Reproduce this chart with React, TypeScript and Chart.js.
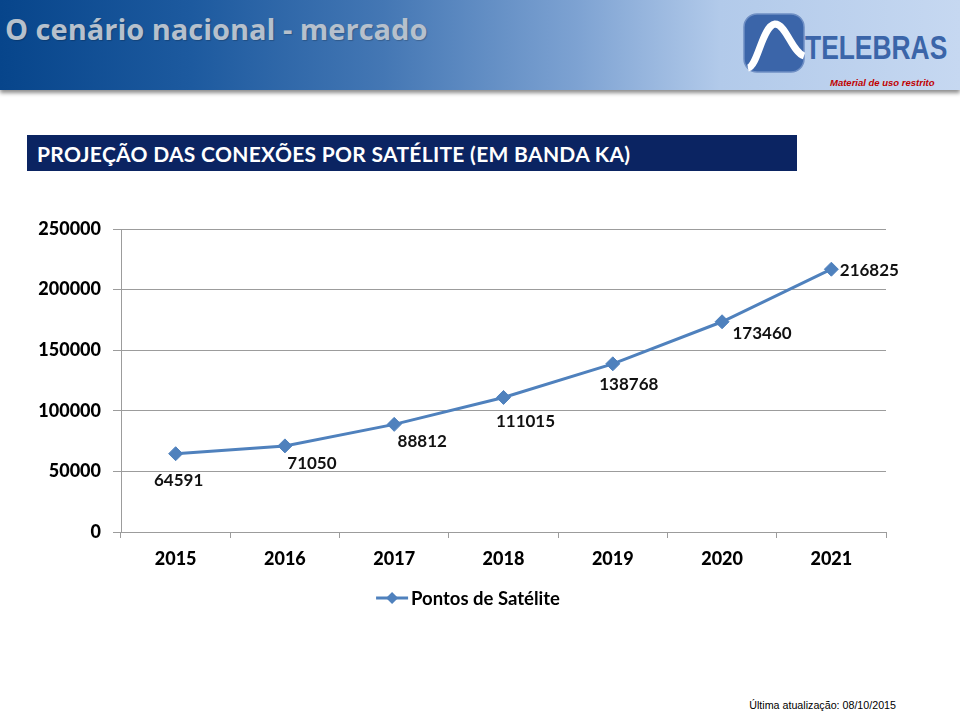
import React, { useEffect, useRef } from "react";
import { Chart, registerables } from "chart.js";

Chart.register(...registerables);

const years = ["2015", "2016", "2017", "2018", "2019", "2020", "2021"];
const satellitePoints = [64591, 71050, 88812, 111015, 138768, 173460, 216825];
const seriesName = "Pontos de Satélite";
const yMin = 0;
const yMax = 250000;
const yStep = 50000;

const LINE_COLOR = "#4f81bd";
const GRID_COLOR = "#9c9c9c";
const CHART_FONT = "Lato, 'Open Sans', sans-serif";

// label placement (dx, dy) relative to each point, in pixels
const labelPlacement = [
  [3, 27],
  [27, 18],
  [28, 17],
  [22, 24],
  [16, 21],
  [40, 12],
  [38, 1],
];

const dataLabelsPlugin = {
  id: "dataLabels",
  afterDatasetsDraw(chart: any) {
    const meta = chart.getDatasetMeta(0);
    const ds = chart.data.datasets[0];
    const ctx = chart.ctx;
    ctx.save();
    ctx.font = `bold 17px ${CHART_FONT}`;
    ctx.fillStyle = "#111";
    ctx.textAlign = "center";
    ctx.textBaseline = "middle";
    meta.data.forEach((pt: any, i: number) => {
      const [dx, dy] = labelPlacement[i] || [0, 20];
      ctx.fillText(String(ds.data[i]), pt.x + dx, pt.y + dy);
    });
    ctx.restore();
  },
};

const lineLegendPlugin = {
  id: "lineLegend",
  afterDraw(chart: any) {
    const ctx = chart.ctx;
    const ds = chart.data.datasets[0];
    const cy = chart.chartArea.bottom + 66;
    const lineW = 32;
    ctx.save();
    ctx.font = `bold 18.5px ${CHART_FONT}`;
    const tw = ctx.measureText(ds.label).width;
    const total = lineW + 3 + tw;
    const x0 = 468 - total / 2;
    ctx.strokeStyle = LINE_COLOR;
    ctx.lineWidth = 3;
    ctx.beginPath();
    ctx.moveTo(x0, cy);
    ctx.lineTo(x0 + lineW, cy);
    ctx.stroke();
    const mx = x0 + lineW / 2;
    const r = 6;
    ctx.fillStyle = LINE_COLOR;
    ctx.beginPath();
    ctx.moveTo(mx, cy - r);
    ctx.lineTo(mx + r, cy);
    ctx.lineTo(mx, cy + r);
    ctx.lineTo(mx - r, cy);
    ctx.closePath();
    ctx.fill();
    ctx.fillStyle = "#000";
    ctx.textAlign = "left";
    ctx.textBaseline = "middle";
    ctx.fillText(ds.label, x0 + lineW + 3, cy + 1);
    ctx.restore();
  },
};

function ProjectionChart() {
  const ref = useRef<HTMLCanvasElement | null>(null);
  useEffect(() => {
    if (!ref.current) return;
    const chart = new Chart(ref.current, {
      type: "line",
      data: {
        labels: years,
        datasets: [
          {
            label: seriesName,
            data: satellitePoints,
            borderColor: LINE_COLOR,
            backgroundColor: LINE_COLOR,
            borderWidth: 3,
            pointStyle: "rectRot",
            pointRadius: 7,
            pointBackgroundColor: LINE_COLOR,
            pointBorderColor: LINE_COLOR,
            pointBorderWidth: 1,
            tension: 0,
            fill: false,
          },
        ],
      },
      options: {
        responsive: false,
        animation: false,
        devicePixelRatio: 1,
        layout: { padding: { top: 29, right: 74, bottom: 48, left: 0 } },
        plugins: {
          legend: { display: false },
          tooltip: { enabled: false },
          title: { display: false },
        },
        scales: {
          x: {
            type: "category",
            offset: true,
            grid: {
              offset: true,
              drawOnChartArea: false,
              drawTicks: true,
              tickLength: 6,
              color: GRID_COLOR,
            },
            border: { color: GRID_COLOR, width: 1 },
            ticks: {
              color: "#000",
              font: { family: CHART_FONT, size: 18, weight: "900" },
              padding: 10,
              maxRotation: 0,
              autoSkip: false,
            },
            afterFit: (s: any) => {
              s.height = 40;
            },
          },
          y: {
            min: yMin,
            max: yMax,
            grid: { color: GRID_COLOR, tickLength: 8, drawTicks: true },
            border: { color: GRID_COLOR, width: 1 },
            ticks: {
              stepSize: yStep,
              color: "#000",
              font: { family: CHART_FONT, size: 18, weight: "900" },
              padding: 12,
              callback: (v: any) => String(v),
            },
            afterFit: (s: any) => {
              s.width = 121;
            },
          },
        },
      } as any,
      plugins: [dataLabelsPlugin, lineLegendPlugin],
    });
    return () => chart.destroy();
  }, []);
  return (
    <canvas
      ref={ref}
      width={960}
      height={420}
      style={{ position: "absolute", left: 0, top: 200, width: 960, height: 420 }}
    />
  );
}

function Logo() {
  return (
    <div style={{ position: "absolute", left: 742, top: 12, width: 218, height: 64 }}>
      <svg width={64} height={62} style={{ position: "absolute", left: 0, top: 0 }}>
        <rect x={2} y={2} width={60} height={58} rx={13} ry={13} fill="#3b65a9" stroke="#6f8fc4" strokeWidth={1.5} />
        <path
          d="M 6 56 C 16 54, 20 14, 33 12 C 44 12, 50 40, 62 44"
          fill="none"
          stroke="#ffffff"
          strokeWidth={7}
          strokeLinecap="butt"
        />
      </svg>
      <div
        style={{
          position: "absolute",
          left: 63,
          top: 16,
          fontFamily: "'Liberation Sans', Arial, sans-serif",
          fontWeight: "bold",
          fontSize: 33,
          lineHeight: "40px",
          color: "#3b65a9",
          transform: "scaleX(0.8)",
          transformOrigin: "left center",
          whiteSpace: "nowrap",
        }}
      >
        TELEBRAS
      </div>
    </div>
  );
}

export default function App() {
  return (
    <div
      style={{
        position: "absolute",
        left: 0,
        top: 0,
        width: 960,
        height: 714,
        background: "#ffffff",
        overflow: "hidden",
      }}
    >
      <div
        style={{
          position: "absolute",
          left: 0,
          top: 0,
          width: 960,
          height: 90,
          background:
            "linear-gradient(90deg, #07458b 0%, #1d5a9f 20%, #4477b4 40%, #7da2d2 60%, #b2caea 75%, #c6d8f1 100%)",
          boxShadow: "0 3px 4px rgba(0,0,0,0.45)",
        }}
      />
      <div
        style={{
          position: "absolute",
          left: 5,
          top: 9,
          fontFamily: "'Open Sans', sans-serif",
          fontWeight: "bold",
          fontSize: 29,
          lineHeight: "40px",
          color: "#b6c0cc",
          whiteSpace: "nowrap",
          textShadow: "1px 1px 1px rgba(0,0,0,0.2)",
        }}
      >
        O cenário nacional - mercado
      </div>
      <Logo />
      <div
        style={{
          position: "absolute",
          left: 830,
          top: 77,
          fontFamily: "'Liberation Sans', Arial, sans-serif",
          fontWeight: "bold",
          fontStyle: "italic",
          fontSize: 9.5,
          lineHeight: "12px",
          color: "#c00000",
          whiteSpace: "nowrap",
        }}
      >
        Material de uso restrito
      </div>
      <div
        style={{
          position: "absolute",
          left: 27,
          top: 135,
          width: 770,
          height: 36,
          background: "#0b2462",
        }}
      />
      <div
        style={{
          position: "absolute",
          left: 37,
          top: 135,
          height: 36,
          lineHeight: "38px",
          fontFamily: "Lato, 'Open Sans', sans-serif",
          fontWeight: "bold",
          fontSize: 21,
          letterSpacing: "0.3px",
          color: "#ffffff",
          whiteSpace: "nowrap",
        }}
      >
        PROJEÇÃO DAS CONEXÕES POR SATÉLITE (EM BANDA KA)
      </div>
      <ProjectionChart />
      <div
        style={{
          position: "absolute",
          right: 64,
          top: 698,
          fontFamily: "'Liberation Sans', Arial, sans-serif",
          fontSize: 10.7,
          lineHeight: "14px",
          color: "#000",
          whiteSpace: "nowrap",
        }}
      >
        Última atualização: 08/10/2015
      </div>
    </div>
  );
}
